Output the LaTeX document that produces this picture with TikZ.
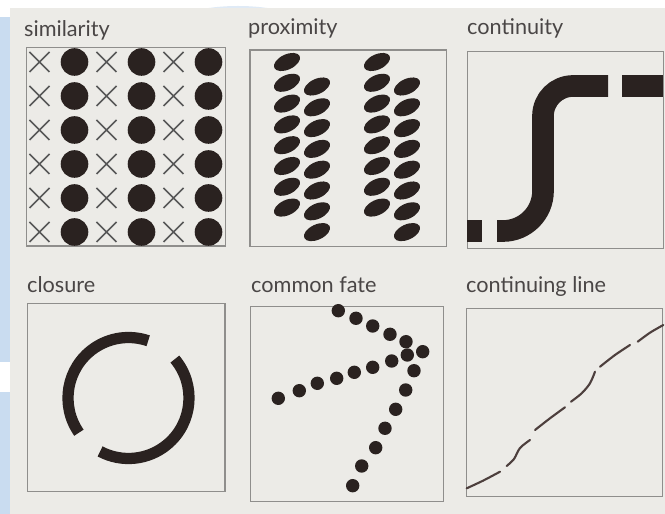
\documentclass[tikz,border=0pt]{standalone}
\usepackage{fontspec}
\setmainfont{Lato}
\usepackage{tikz}
\usetikzlibrary{positioning}
\definecolor{inkbrown}{HTML}{2A2220}
\definecolor{pagebeige}{HTML}{ECEBE7}
\definecolor{framegray}{HTML}{8F8E8C}
\definecolor{labelgray}{HTML}{4A4646}
\definecolor{screenblue}{HTML}{C9DCF0}
\definecolor{dashbrown}{HTML}{4D3F3D}
\tikzstyle{caption} = [anchor=base west, inner sep=0pt, text=labelgray, font=\fontsize{18.5}{22}\selectfont]
\tikzstyle{panel} = [draw=framegray, line width=1.1pt]
\tikzstyle{blob} = [fill=inkbrown]
\tikzstyle{crossmark} = [draw=black!65, line width=1.3pt]
\tikzstyle{thickline} = [draw=inkbrown, line width=18.5pt]
\tikzstyle{ringline} = [draw=inkbrown, line width=9.6pt]
\tikzstyle{dashline} = [draw=dashbrown, line width=1.8pt, line cap=round]
\begin{document}
\begin{tikzpicture}[x=0.03cm, y=-0.03cm]
    % page and screen edges
    \useasboundingbox (0,0) rectangle (665,514);
    \fill[white] (0,0) rectangle (665,514);
    \fill[screenblue] (0,17) rectangle (12,362);
    \fill[screenblue] (0,392) rectangle (12,514);
    \fill[screenblue!60] (238,22) ellipse[x radius=60, y radius=16];
    \fill[pagebeige] (10,8) rectangle (665,514);

    % frames and captions
    \draw[panel] (26.7,47.7) rectangle (225.7,246);
    \draw[panel] (250,50) rectangle (446.7,246.7);
    \draw[panel] (467.3,51.7) rectangle (663.3,248.3);
    \draw[panel] (27.3,303.3) rectangle (225,491.7);
    \draw[panel] (250.7,306.7) rectangle (443.3,501.7);
    \draw[panel] (466.7,308.3) rectangle (662.3,496.7);
    \node[caption] (similarity) at (24,37) {similarity};
    \node[caption] (proximity) at (248,35) {proximity};
    \node[caption] (continuity) at (467,35) {continuity};
    \node[caption] (closure) at (27,293) {closure};
    \node[caption] (fate) at (251,293) {common fate};
    \node[caption] (contline) at (466,293) {continuing line};

    % similarity
    \foreach \i in {0,1,2} \foreach \j in {0,...,5} {
        \fill[blob] (74.5+67*\i, 62+34*\j) circle[radius=13.8];
        \draw[crossmark] (29.5+67*\i, 52+34*\j) -- ++(20,20) ++(0,-20) -- ++(-20,20);
    }

    % proximity
    \foreach \cx/\dy in {287/0, 317/24.5, 377/0, 407/24.5} \foreach \k in {0,...,7}
        \fill[blob, shift={(\cx, 62+\dy+20.8*\k)}, rotate=25] (0,0) ellipse[x radius=14, y radius=7.6];

    % continuity
    \draw[thickline] (467.3,231) -- (482,231);
    \draw[thickline] (497,231) -- (503,231) arc[start angle=90, end angle=0, radius=40]
        -- (543,116) arc[start angle=180, end angle=270, radius=30] -- (608,86);
    \draw[thickline] (622,86) -- (663.3,86);

    % closure
    \coordinate (ringc) at (128.5,398);
    \draw[ringline] (ringc) ++(145:60.5) arc[start angle=145, end angle=289, radius=60.5];
    \draw[ringline] (ringc) ++(-40:60.5) arc[start angle=-40, end angle=118, radius=60.5];

    % common fate
    \foreach \p in {(338.3,310.7), (356,318.3), (372.7,326), (390,334.3), (406,341.7), (422.7,351.7),
        (278.3,398.3), (299.3,390.7), (317.3,383.3), (336.7,378.3), (354.3,372.3), (372.7,367.3), (391.7,361), (407.3,355),
        (414,370.7), (405.7,390), (395.7,409.3), (385,428.3), (375.7,447.7), (361.7,466), (352.7,485.7)}
        \fill[blob] \p circle[radius=6.7];

    % continuing line
    \draw[dashline] plot[smooth] coordinates {(466.7,488.3) (483,480.7) (500,471.7)};
    \draw[dashline] plot[smooth] coordinates {(506.7,466) (514,459) (520,448) (530,440)};
    \draw[dashline] plot[smooth] coordinates {(535,430) (550,418.3) (565,407.3)};
    \draw[dashline] plot[smooth] coordinates {(571,401.7) (581.7,393.3) (590,383.3) (595,371.7)};
    \draw[dashline] plot[smooth] coordinates {(600,366.7) (615,355) (630,345)};
    \draw[dashline] plot[smooth] coordinates {(637.7,341.7) (650,332.7) (663.3,325)};
\end{tikzpicture}
\end{document}
